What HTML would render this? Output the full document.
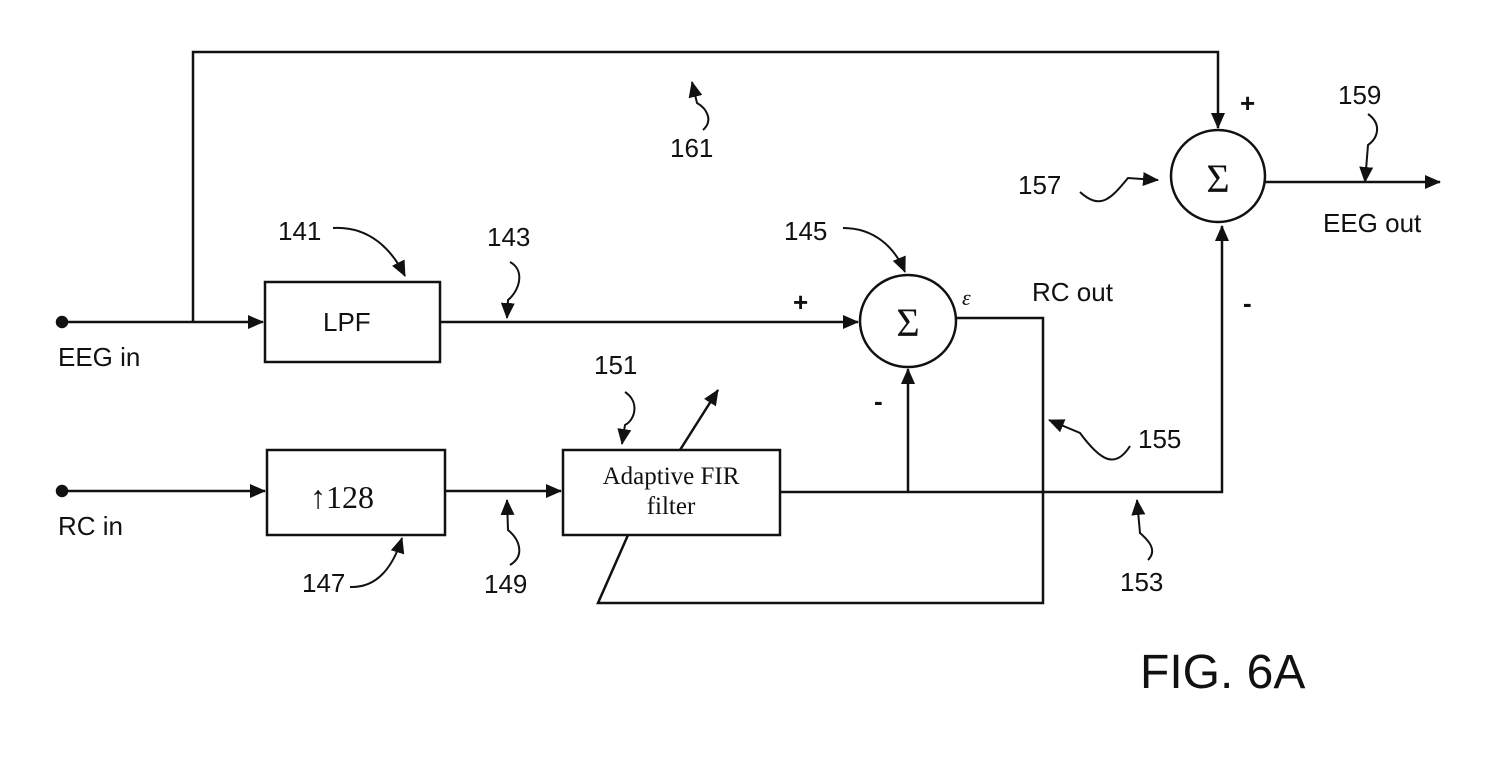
<!DOCTYPE html>
<html><head><style>
body{margin:0;background:#fff}
text{font-family:"Liberation Sans",sans-serif;fill:#111}
</style></head><body>
<svg width="1512" height="756" viewBox="0 0 1512 756" xmlns="http://www.w3.org/2000/svg">
<defs>
<marker id="b" markerWidth="16" markerHeight="16" refX="15" refY="8" orient="auto" markerUnits="userSpaceOnUse" viewBox="0 0 16 16"><path d="M0,1 L16,8 L0,15 z" fill="#111"/></marker>
</defs>
<g stroke="#111" stroke-width="2.5" fill="none">
<circle cx="62" cy="322" r="5" fill="#111"/>
<circle cx="62" cy="491" r="5" fill="#111"/>
<path d="M62,322 H263" marker-end="url(#b)"/>
<path d="M193,322 V52 H1218 V128" marker-end="url(#b)"/>
<rect x="265" y="282" width="175" height="80"/>
<path d="M440,322 H858" marker-end="url(#b)"/>
<ellipse cx="908" cy="321" rx="48" ry="46"/>
<ellipse cx="1218" cy="176" rx="47" ry="46"/>
<path d="M1265,182 H1440" marker-end="url(#b)"/>
<path d="M956,318 H1043 V603 H598 L628,535"/>
<path d="M62,491 H265" marker-end="url(#b)"/>
<rect x="267" y="450" width="178" height="85"/>
<path d="M445,491 H561" marker-end="url(#b)"/>
<rect x="563" y="450" width="217" height="85"/>
<path d="M780,492 H1222 V226" marker-end="url(#b)"/>
<path d="M908,492 V369" marker-end="url(#b)"/>
<path d="M680,450 L718,390" marker-end="url(#b)"/>
<path d="M333,228 C370,226 392,250 405,276" stroke-width="2" marker-end="url(#b)"/>
<path d="M350,587 C375,588 392,570 402,538" stroke-width="2" marker-end="url(#b)"/>
<path d="M510,262 C525,270 520,290 508,300 L507,318" stroke-width="2" marker-end="url(#b)"/>
<path d="M510,565 C525,556 520,540 508,530 L507,500" stroke-width="2" marker-end="url(#b)"/>
<path d="M843,228 C875,228 895,248 905,272" stroke-width="2" marker-end="url(#b)"/>
<path d="M625,392 C640,402 635,420 625,425 L622,444" stroke-width="2" marker-end="url(#b)"/>
<path d="M1148,560 C1158,550 1148,540 1140,533 L1137,500" stroke-width="2" marker-end="url(#b)"/>
<path d="M1130,446 C1115,470 1100,460 1080,433 L1049,420" stroke-width="2" marker-end="url(#b)"/>
<path d="M1080,192 C1100,210 1110,200 1128,178 L1158,180" stroke-width="2" marker-end="url(#b)"/>
<path d="M1368,114 C1382,124 1378,138 1368,145 L1365,182" stroke-width="2" marker-end="url(#b)"/>
<path d="M703,130 C714,120 706,108 697,103 L692,82" stroke-width="2" marker-end="url(#b)"/>
</g>
<g font-size="26">
<text x="58" y="366">EEG in</text>
<text x="58" y="535">RC in</text>
<text x="323" y="331">LPF</text>
<text x="310" y="508" style="font-family:'Liberation Serif',serif" font-size="32">↑128</text>
<text x="671" y="484" text-anchor="middle" style="font-family:'Liberation Serif',serif" font-size="25">Adaptive FIR</text>
<text x="671" y="514" text-anchor="middle" style="font-family:'Liberation Serif',serif" font-size="25">filter</text>
<text x="908" y="336" text-anchor="middle" style="font-family:'Liberation Serif',serif" font-size="40">Σ</text>
<text x="1218" y="192" text-anchor="middle" style="font-family:'Liberation Serif',serif" font-size="40">Σ</text>
<text x="962" y="305" style="font-family:'Liberation Serif',serif;font-style:italic" font-size="22">ε</text>
<text x="1032" y="301">RC out</text>
<text x="1323" y="232">EEG out</text>
<text x="278" y="240">141</text>
<text x="487" y="246">143</text>
<text x="784" y="240">145</text>
<text x="594" y="374">151</text>
<text x="302" y="592">147</text>
<text x="484" y="593">149</text>
<text x="1120" y="591">153</text>
<text x="1138" y="448">155</text>
<text x="1018" y="194">157</text>
<text x="1338" y="104">159</text>
<text x="670" y="157">161</text>
<text x="793" y="311" font-weight="bold">+</text>
<text x="1240" y="112" font-weight="bold">+</text>
<text x="874" y="410" font-weight="bold">-</text>
<text x="1243" y="312" font-weight="bold">-</text>
<text x="1140" y="688" font-size="48">FIG. 6A</text>
</g>
</svg>
</body></html>
